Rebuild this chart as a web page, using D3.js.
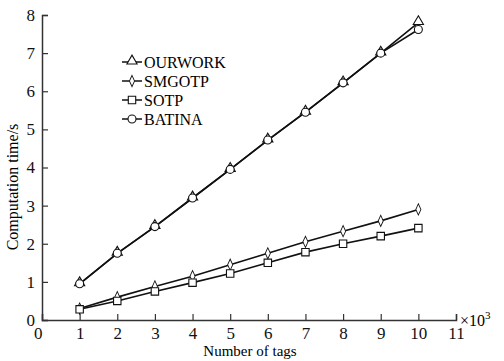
<!DOCTYPE html>
<html>
<head>
<meta charset="utf-8">
<script src="https://cdn.jsdelivr.net/npm/d3@7"></script>
<style>
  body { margin: 0; background: #fff; }
  svg { display: block; }
</style>
</head>
<body>
<svg id="chart" width="504" height="361"></svg>
<script>
var tags = [1, 2, 3, 4, 5, 6, 7, 8, 9, 10];
var ourwork = [0.95, 1.75, 2.45, 3.2, 3.95, 4.72, 5.45, 6.22, 7.0, 7.8];
var smgotp = [0.3, 0.6, 0.88, 1.15, 1.45, 1.75, 2.05, 2.33, 2.6, 2.9];
var sotp = [0.28, 0.5, 0.75, 0.98, 1.22, 1.5, 1.78, 2.0, 2.2, 2.41];
var batina = [0.95, 1.75, 2.45, 3.2, 3.95, 4.72, 5.45, 6.22, 7.0, 7.62];
var xTicks = [0, 1, 2, 3, 4, 5, 6, 7, 8, 9, 10, 11];
var yTicks = [0, 1, 2, 3, 4, 5, 6, 7, 8];

var series = [
  { name: "OURWORK", values: ourwork, marker: "triangle" },
  { name: "SMGOTP", values: smgotp, marker: "diamond" },
  { name: "SOTP", values: sotp, marker: "square" },
  { name: "BATINA", values: batina, marker: "circle" }
];

var FONT = "'Liberation Serif', 'Times New Roman', serif";
var svg = d3.select("#chart");
var axisColor = "#333";

var x = d3.scaleLinear().domain([0, 11]).range([42, 456]),
  y = d3.scaleLinear().domain([0, 8]).range([320, 15]);

// axes, ticks point inward
var gx = svg.append("g")
  .attr("transform", "translate(0," + y(0) + ")")
  .call(d3.axisBottom(x).tickValues(xTicks).tickSize(-6).tickPadding(7).tickFormat(d3.format("d")));
var gy = svg.append("g")
  .attr("transform", "translate(" + x(0) + ",0)")
  .call(d3.axisLeft(y).tickValues(yTicks).tickSize(-6).tickPadding(7).tickFormat(d3.format("d")));

[gx, gy].forEach(function (g) {
  g.attr("font-family", null).attr("font-size", null);
  g.select(".domain").attr("stroke", axisColor).attr("stroke-width", 1.5);
  g.selectAll(".tick line").attr("stroke", axisColor).attr("stroke-width", 1.2);
  g.selectAll(".tick text").attr("fill", "#111").style("font-family", FONT).style("font-size", "17px");
});
gx.select(".tick text").attr("dx", "-0.25em");

svg.append("text")
  .attr("x", 250).attr("y", 356)
  .attr("text-anchor", "middle")
  .style("font-family", FONT)
  .style("font-size", "15px")
  .text("Number of tags");

svg.append("text")
  .attr("transform", "translate(18,187) rotate(-90)")
  .attr("text-anchor", "middle")
  .style("font-family", FONT)
  .style("font-size", "16px")
  .text("Computation time/s");

svg.append("text")
  .attr("x", 460).attr("y", 326)
  .style("font-family", FONT)
  .style("font-size", "16px")
  .html("\u00d710<tspan dy='-7' style='font-size:11px'>3</tspan>");

var symbolFor = {
  triangle: d3.symbol().type(d3.symbolTriangle).size(45),
  diamond: d3.symbol().type(d3.symbolDiamond).size(40),
  square: d3.symbol().type(d3.symbolSquare).size(55),
  circle: d3.symbol().type(d3.symbolCircle).size(50)
};

function drawMarker(g, type, cx, cy) {
  var p = g.append("path")
    .attr("d", symbolFor[type]())
    .attr("fill", "#fff")
    .attr("stroke", "#111")
    .attr("stroke-width", 1.1);
  if (type === "diamond") p.attr("transform", "translate(" + cx + "," + cy + ") scale(0.75,0.95)");
  else if (type === "triangle") p.attr("transform", "translate(" + cx + "," + (cy - 1) + ")");
  else p.attr("transform", "translate(" + cx + "," + cy + ")");
}

var line = d3.line()
  .x(function (d) { return x(d[0]); })
  .y(function (d) { return y(d[1]); });

series.forEach(function (s) {
  var pts = tags.map(function (t, i) { return [t, s.values[i]]; });
  svg.append("path")
    .datum(pts)
    .attr("fill", "none")
    .attr("stroke", "#111")
    .attr("stroke-width", 1.6)
    .attr("d", line);
});

series.forEach(function (s) {
  var g = svg.append("g");
  tags.forEach(function (t, i) {
    drawMarker(g, s.marker, x(t), y(s.values[i]));
  });
});

// legend
var legend = svg.append("g");
series.forEach(function (s, i) {
  var ly = 62 + i * 19;
  legend.append("line")
    .attr("x1", 122).attr("x2", 142)
    .attr("y1", ly).attr("y2", ly)
    .attr("stroke", "#111").attr("stroke-width", 1.5);
  drawMarker(legend, s.marker, 132, ly);
  legend.append("text")
    .attr("x", 144).attr("y", ly + 5.5)
    .style("font-family", FONT)
    .style("font-size", "16px")
    .text(s.name);
});
</script>
</body>
</html>
